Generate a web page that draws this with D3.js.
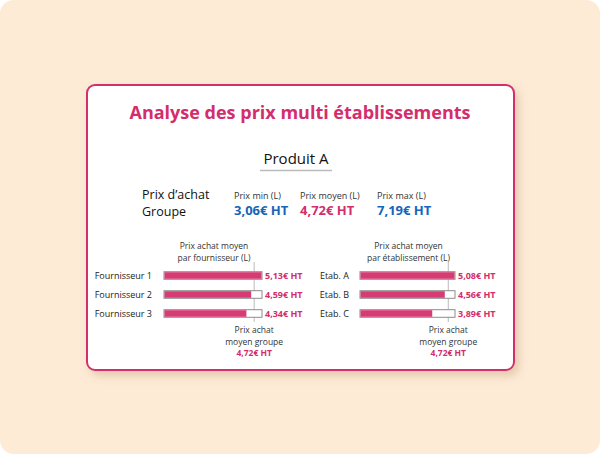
<!DOCTYPE html>
<html><head><meta charset="utf-8">
<script src="https://cdn.jsdelivr.net/npm/d3@7"></script>
<style>html,body{margin:0;padding:0;background:#fff;}svg{display:block;font-family:"Open Sans",sans-serif;}</style>
</head><body>
<script>
const title = "Analyse des prix multi établissements";
const product = "Produit A";
const summaryLabels = ["Prix min (L)", "Prix moyen (L)", "Prix max (L)"];
const summaryValues = [3.06, 4.72, 7.19];
const summaryColors = ["#1565b8", "#d42d6c", "#1565b8"];
const groupMean = 4.72;
const suppliers = ["Fournisseur 1", "Fournisseur 2", "Fournisseur 3"];
const supplierValues = [5.13, 4.59, 4.34];
const etabs = ["Etab. A", "Etab. B", "Etab. C"];
const etabValues = [5.08, 4.56, 3.89];

const pink = "#d42d6c";
const fmt = v => d3.format(".2f")(v).replace(".", ",") + "€ HT";

const W = 600, H = 454;
const svg = d3.select("body").append("svg").attr("width", W).attr("height", H);
const defs = svg.append("defs");
const f = defs.append("filter").attr("id","sh").attr("x","-10%").attr("y","-10%").attr("width","130%").attr("height","130%");
f.append("feDropShadow").attr("dx",4).attr("dy",5).attr("stdDeviation",4).attr("flood-color","#c9a27a").attr("flood-opacity",0.45);

svg.append("rect").attr("width",W).attr("height",H).attr("rx",14).attr("fill","#fdebd6");
svg.append("rect").attr("x",87).attr("y",85).attr("width",427).attr("height",285).attr("rx",8)
  .attr("fill","#fff").attr("stroke",pink).attr("stroke-width",2).attr("filter","url(#sh)");

svg.append("text").attr("x",300).attr("y",119).attr("text-anchor","middle")
  .attr("font-size",18).attr("font-weight",700).attr("fill",pink).text(title);
svg.append("text").attr("x",296).attr("y",164).attr("text-anchor","middle")
  .attr("font-size",15).attr("fill","#111").text(product);
svg.append("line").attr("x1",260).attr("x2",332).attr("y1",170.5).attr("y2",170.5).attr("stroke","#bbb").attr("stroke-width",1.5);

svg.append("text").attr("x",142).attr("y",198.5).attr("font-size",12.5).attr("fill","#111").text("Prix d’achat");
svg.append("text").attr("x",142).attr("y",215.8).attr("font-size",12.5).attr("fill","#111").text("Groupe");

const sx = d3.scaleOrdinal().domain(summaryLabels).range([234, 300, 377]);
summaryLabels.forEach((l,i)=>{
  svg.append("text").attr("x",sx(l)).attr("y",199).attr("font-size",9).attr("fill","#333").text(l);
  svg.append("text").attr("x",sx(l)).attr("y",215).attr("font-size",13).attr("font-weight",700).attr("fill",summaryColors[i]).text(fmt(summaryValues[i]));
});

function panel(cats, vals, x0, x1, labelX, head) {
  const x = d3.scaleLinear().domain([0, d3.max(vals)]).range([x0, x1]);
  const y = d3.scaleBand().domain(cats).range([266, 323]).paddingInner(0.6).paddingOuter(0.3);
  const g = svg.append("g");
  const cx = x(groupMean);
  g.append("text").attr("x",(x0+x1)/2+1).attr("y",249).attr("text-anchor","middle").attr("font-size",8.5).attr("fill","#333").text(head[0]);
  g.append("text").attr("x",(x0+x1)/2+1).attr("y",260.7).attr("text-anchor","middle").attr("font-size",8.5).attr("fill","#333").text(head[1]);
  g.append("line").attr("x1",cx).attr("x2",cx).attr("y1",262).attr("y2",322).attr("stroke","#bbb").attr("stroke-width",1);
  const r = g.selectAll("g.row").data(cats).join("g").attr("class","row");
  r.append("rect").attr("x",x0).attr("y",d=>y(d)).attr("width",x1-x0).attr("height",y.bandwidth())
    .attr("fill","#fff").attr("stroke","#8c8c8c").attr("stroke-width",1);
  r.append("rect").attr("x",x0+0.5).attr("y",d=>y(d)+0.5).attr("width",(d,i)=>x(vals[i])-x0-1).attr("height",y.bandwidth()-1)
    .attr("fill","#d63b73");
  r.append("text").attr("x",labelX).attr("y",d=>y(d)+y.bandwidth()/2+3.3).attr("text-anchor","end").attr("font-size",9).attr("fill","#222").text(d=>d);
  r.append("text").attr("x",x1+3).attr("y",d=>y(d)+y.bandwidth()/2+3.3).attr("font-size",9).attr("font-weight",700).attr("fill",pink).text((d,i)=>fmt(vals[i]));
  g.append("text").attr("x",cx).attr("y",333).attr("text-anchor","middle").attr("font-size",8.5).attr("fill","#333").text("Prix achat");
  g.append("text").attr("x",cx).attr("y",344.7).attr("text-anchor","middle").attr("font-size",8.5).attr("fill","#333").text("moyen groupe");
  g.append("text").attr("x",cx).attr("y",356.4).attr("text-anchor","middle").attr("font-size",8.5).attr("font-weight",700).attr("fill",pink).text(fmt(groupMean));
}
panel(suppliers, supplierValues, 164, 262, 152, ["Prix achat moyen","par fournisseur (L)"]);
panel(etabs, etabValues, 360, 455, 349, ["Prix achat moyen","par établissement (L)"]);
</script>
</body></html>
